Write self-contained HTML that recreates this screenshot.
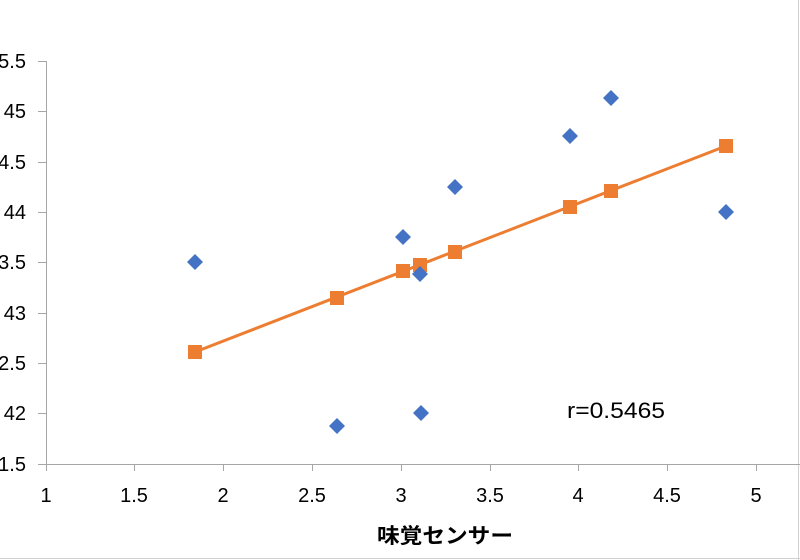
<!DOCTYPE html>
<html><head><meta charset="utf-8"><style>body{margin:0;background:#fff}svg{display:block}</style></head><body>
<svg width="800" height="560" xmlns="http://www.w3.org/2000/svg" font-family="Liberation Sans, Noto Sans CJK JP, sans-serif">
<rect width="800" height="560" fill="#fff"/>
<line x1="0" y1="558.5" x2="800" y2="558.5" stroke="#d0d0d0"/>
<line x1="798.5" y1="0" x2="798.5" y2="560" stroke="#d0d0d0"/>
<g stroke="#a6a6a6" stroke-width="1">
<line x1="46.5" y1="61" x2="46.5" y2="464"/>
<line x1="38" y1="464.5" x2="800" y2="464.5"/>
<line x1="38" y1="61.5" x2="46" y2="61.5"/><line x1="38" y1="111.5" x2="46" y2="111.5"/><line x1="38" y1="162.5" x2="46" y2="162.5"/><line x1="38" y1="212.5" x2="46" y2="212.5"/><line x1="38" y1="262.5" x2="46" y2="262.5"/><line x1="38" y1="313.5" x2="46" y2="313.5"/><line x1="38" y1="363.5" x2="46" y2="363.5"/><line x1="38" y1="413.5" x2="46" y2="413.5"/>
<line x1="46.5" y1="464" x2="46.5" y2="471"/><line x1="134.5" y1="464" x2="134.5" y2="471"/><line x1="223.5" y1="464" x2="223.5" y2="471"/><line x1="312.5" y1="464" x2="312.5" y2="471"/><line x1="401.5" y1="464" x2="401.5" y2="471"/><line x1="490.5" y1="464" x2="490.5" y2="471"/><line x1="578.5" y1="464" x2="578.5" y2="471"/><line x1="667.5" y1="464" x2="667.5" y2="471"/><line x1="756.5" y1="464" x2="756.5" y2="471"/>
</g>
<g font-size="20" fill="#000" text-anchor="end">
<text x="26" y="68">45.5</text><text x="26" y="118">45</text><text x="26" y="169">44.5</text><text x="26" y="219">44</text><text x="26" y="269">43.5</text><text x="26" y="320">43</text><text x="26" y="370">42.5</text><text x="26" y="420">42</text><text x="26" y="471">41.5</text>
</g>
<g font-size="20" fill="#000" text-anchor="middle">
<text x="46" y="502">1</text><text x="134" y="502">1.5</text><text x="223" y="502">2</text><text x="312" y="502">2.5</text><text x="401" y="502">3</text><text x="490" y="502">3.5</text><text x="578" y="502">4</text><text x="667" y="502">4.5</text><text x="756" y="502">5</text>
</g>
<text x="377" y="543" font-size="21" font-weight="bold" textLength="136" lengthAdjust="spacingAndGlyphs">味覚センサー</text>
<text x="567" y="418" font-size="22" textLength="98" lengthAdjust="spacingAndGlyphs">r=0.5465</text>
<line x1="195" y1="352" x2="726" y2="146" stroke="#ed7d31" stroke-width="3"/>
<g fill="#ed7d31">
<rect x="188" y="345" width="14" height="14"/><rect x="330" y="291" width="14" height="14"/><rect x="396" y="264" width="14" height="14"/><rect x="413" y="258" width="14" height="14"/><rect x="448" y="245" width="14" height="14"/><rect x="563" y="200" width="14" height="14"/><rect x="604" y="184" width="14" height="14"/><rect x="719" y="139" width="14" height="14"/>
</g>
<g fill="#4472c4">
<path d="M195 254l8 8-8 8-8-8z"/><path d="M337 418l8 8-8 8-8-8z"/><path d="M403 229l8 8-8 8-8-8z"/><path d="M420 266l8 8-8 8-8-8z"/><path d="M421 405l8 8-8 8-8-8z"/><path d="M455 179l8 8-8 8-8-8z"/><path d="M570 128l8 8-8 8-8-8z"/><path d="M611 90l8 8-8 8-8-8z"/><path d="M726 204l8 8-8 8-8-8z"/>
</g>
</svg>
</body></html>
